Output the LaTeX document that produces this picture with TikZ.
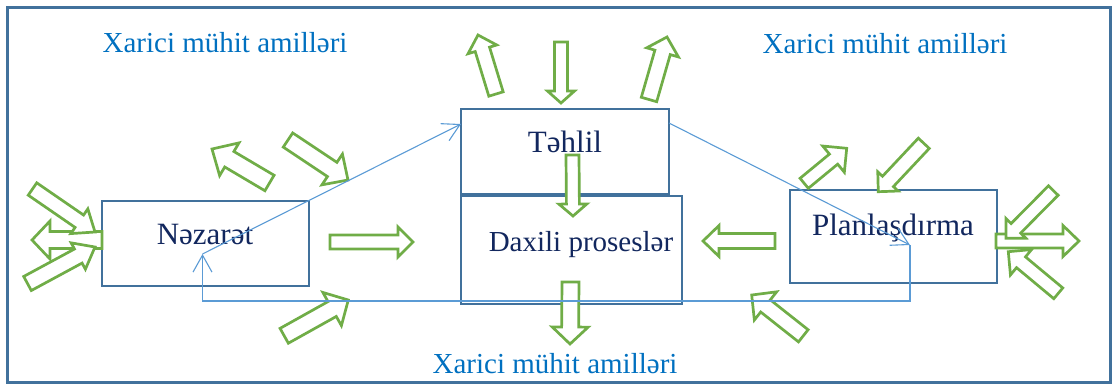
\documentclass[tikz,border=0pt]{standalone}
\usepackage{fontspec}
\setmainfont{Liberation Serif}
\usetikzlibrary{arrows.meta}
\definecolor{frameblue}{HTML}{41719C}
\definecolor{navytext}{HTML}{12275E}
\definecolor{exttext}{HTML}{0070C0}
\definecolor{lineblue}{HTML}{5B9BD5}
\definecolor{agreen}{HTML}{70AD47}
\newcommand\garr[7]{%
 \pgfmathsetmacro\gA{atan2(#4-#2,#3-#1)}%
 \pgfmathsetmacro\gL{veclen(#3-#1,#4-#2)-#7}%
 \pgfmathsetmacro\gC{cos(\gA)}%
 \pgfmathsetmacro\gS{sin(\gA)}%
 \pgfmathsetmacro\gW{#5/2}%
 \pgfmathsetmacro\gH{#6/2}%
 \draw[garrow] ({#1-\gW*\gS},{#2+\gW*\gC}) -- ({#1+\gL*\gC-\gW*\gS},{#2+\gL*\gS+\gW*\gC}) -- ({#1+\gL*\gC-\gH*\gS},{#2+\gL*\gS+\gH*\gC}) -- (#3,#4) -- ({#1+\gL*\gC+\gH*\gS},{#2+\gL*\gS-\gH*\gC}) -- ({#1+\gL*\gC+\gW*\gS},{#2+\gL*\gS-\gW*\gC}) -- ({#1+\gW*\gS},{#2-\gW*\gC}) -- cycle;}
\tikzset{
  box/.style={draw=frameblue, line width=2.7pt, fill=white, inner sep=0pt},
  boxtext/.style={text=navytext, font=\fontsize{31}{36}\selectfont, inner sep=0pt, anchor=base},
  exttextstyle/.style={text=exttext, font=\fontsize{29}{34}\selectfont, inner sep=0pt, anchor=base},
  garrow/.style={draw=agreen, line width=2.7pt, fill=white, line join=miter},
  bline/.style={draw=lineblue, line width=1.1pt},
  barrowtip/.style={-{Straight Barb[length=17pt,width=19pt,line width=1.1pt]}}
}
\begin{document}
\begin{tikzpicture}[x=1pt,y=-1pt]
\useasboundingbox (0,0) rectangle (1112,384);
% outer frame
\draw[frameblue, line width=2.3pt] (7.5,7.5) rectangle (1110.5,382.5);
% boxes
\node[box, minimum width=208pt, minimum height=85pt] (teh) at (565,151.5) {};
\node[box, minimum width=221pt, minimum height=108pt] (dax) at (571.5,250) {};
\node[box, minimum width=207pt, minimum height=85pt] (nez) at (205.5,243.5) {};
\node[box, minimum width=207pt, minimum height=93pt] (plan) at (893.5,236.5) {};
% box texts
\node[boxtext] (tehT) at (565,152) {Təhlil};
\node[boxtext, font=\fontsize{29}{34}\selectfont] (daxT) at (581,251) {Daxili proseslər};
\node[boxtext] (nezT) at (205,244) {Nəzarət};
\node[boxtext] (planT) at (893,235) {Planlaşdırma};
% external texts
\node[exttextstyle] (extTL) at (225,52) {Xarici mühit amilləri};
\node[exttextstyle] (extTR) at (885,53) {Xarici mühit amilləri};
\node[exttextstyle] (extB) at (555,373) {Xarici mühit amilləri};
% green block arrows: tail x,y ; tip x,y ; shaft w ; head w ; head len
% top
\garr{496}{94}{478}{35}{15}{30}{15}
\garr{561}{42}{561}{103}{13}{27}{12}
\garr{649}{99.5}{667}{37}{16}{33}{16}
% centre
\garr{572.5}{155}{573}{216}{13}{28}{12}
\garr{570.5}{282}{570}{344}{17}{36}{17}
\garr{330}{242}{413}{242}{14}{30}{15}
\garr{775}{241}{703}{241}{15}{31}{16}
% around Nezaret
\garr{269.5}{183}{212}{149}{18}{38}{20}
\garr{288}{140}{348}{180}{17}{37}{19}
\garr{102}{240}{32}{240}{17}{38}{18}
\garr{32.5}{189}{95}{232}{15}{30}{19}
\garr{27.5}{283.5}{95}{247}{16}{30}{19}
% around Planlasdirma
\garr{996}{241}{1079}{241}{14}{31}{16}
\garr{1053.3}{190.5}{1006}{238.3}{13.5}{28}{14}
\garr{1058.3}{293.3}{1008.3}{251.7}{14}{33}{16.5}
\garr{804.2}{183.3}{846.7}{148.3}{13}{34}{17}
\garr{923.8}{143.3}{878.3}{191.7}{15}{28}{14}
% bottom
\garr{284.2}{335.8}{348.3}{300}{17}{38}{18.5}
\garr{803.3}{335.8}{751.7}{295}{15.5}{36}{17.5}
% blue connectors
\coordinate (pN) at (202.5,254);
\coordinate (pP) at (910,245);
\coordinate (tA) at (461,124);
\coordinate (tB) at (669,123);
\coordinate (cR) at (910,301);
\coordinate (cL) at (202.5,301);
\draw[bline, barrowtip] (pN) -- (tA);
\draw[bline, barrowtip] (tB) -- (pP);
\draw[bline, barrowtip] (pP) -- (cR) -- (cL) -- (pN);
\end{tikzpicture}
\end{document}
